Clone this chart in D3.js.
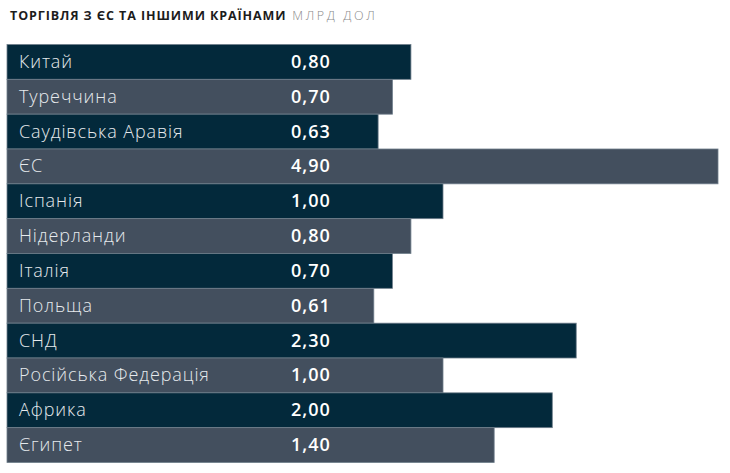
<!DOCTYPE html>
<html>
<head>
<meta charset="utf-8">
<script src="https://cdn.jsdelivr.net/npm/d3@7"></script>
<style>
  body { margin: 0; background: #fff; }
  svg text { font-family: "Open Sans", sans-serif; }
</style>
</head>
<body>
<svg width="730" height="473"></svg>
<script>
// Торгівля з ЄС та іншими країнами, млрд дол

var countries = ["Китай", "Туреччина", "Саудівська Аравія", "ЄС", "Іспанія", "Нідерланди",
                 "Італія", "Польща", "СНД", "Російська Федерація", "Африка", "Єгипет"];
var values = [0.80, 0.70, 0.63, 4.90, 1.00, 0.80, 0.70, 0.61, 2.30, 1.00, 2.00, 1.40];

var svg = d3.select("svg"),
    width = +svg.attr("width"),
    height = +svg.attr("height");

var colors = ["#03293b", "#434f5e"];

// bars are not proportional in the original, a compressed scale fits them best
var x = d3.scalePow()
    .exponent(0.2)
    .domain([1, d3.max(values)])
    .range([443, 718]);

var y = d3.scaleBand()
    .domain(countries)
    .range([44.5, 462.5])
    .padding(0);

var fmt = function(v) { return d3.format(".2f")(v).replace(".", ","); };

var title = svg.append("text")
    .attr("x", 10)
    .attr("y", 20)
    .attr("font-size", 12.5);
title.append("tspan")
    .attr("font-weight", 700)
    .attr("fill", "#1c1c1c")
    .attr("letter-spacing", 0.9)
    .text("ТОРГІВЛЯ З ЄС ТА ІНШИМИ КРАЇНАМИ");
title.append("tspan")
    .attr("font-weight", 300)
    .attr("fill", "#8a8a8a")
    .attr("letter-spacing", 2.6)
    .text(" МЛРД ДОЛ");

var row = svg.selectAll(".row")
    .data(countries)
    .enter().append("g")
      .attr("class", "row")
      .attr("transform", function(d) { return "translate(0," + y(d) + ")"; });

row.append("rect")
    .attr("x", 7)
    .attr("width", function(d, i) { return x(values[i]) - 7; })
    .attr("height", y.bandwidth())
    .attr("fill", function(d, i) { return colors[i % 2]; })
    .attr("stroke", "#6f7e8b")
    .attr("stroke-width", 0.8);

row.append("text")
    .attr("x", 19)
    .attr("y", y.bandwidth() / 2 + 6)
    .attr("font-size", 18)
    .attr("font-weight", 300)
    .attr("letter-spacing", 0.9)
    .attr("fill", "#e6eaed")
    .text(function(d) { return d; });

row.append("text")
    .attr("x", 291)
    .attr("y", y.bandwidth() / 2 + 6)
    .attr("font-size", 18)
    .attr("font-weight", 600)
    .attr("letter-spacing", 1)
    .attr("fill", "#ffffff")
    .text(function(d, i) { return fmt(values[i]); });
</script>
</body>
</html>
